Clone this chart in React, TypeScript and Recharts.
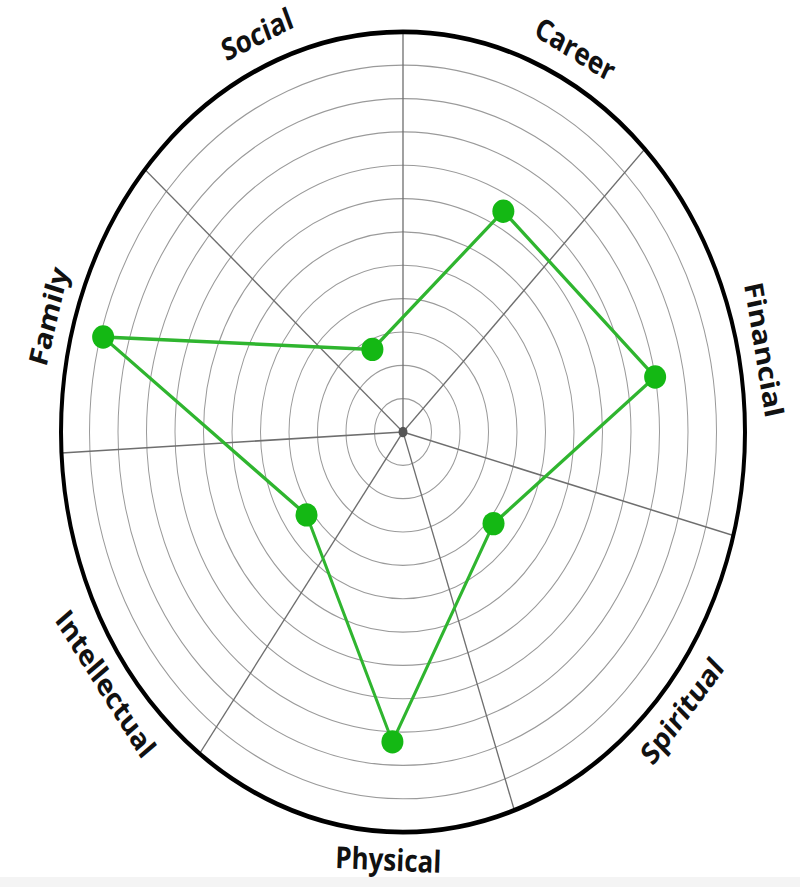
import React from "react";
import { RadarChart, Radar, PolarGrid, PolarAngleAxis, PolarRadiusAxis } from "recharts";

// ── data ────────────────────────────────────────────────────────────────
const AREAS = ["Career", "Financial", "Spiritual", "Physical", "Intellectual", "Family", "Social"];
const SCORES = [7.5, 9, 4.2, 9.3, 4.2, 10.9, 2.7];
const SCALE_TICKS = [0, 12];

const data = AREAS.map((subject, i) => ({ subject, value: SCORES[i] }));

// ── layout ─────────────────────────────────────────────────────────────
// the wheel is drawn as a circle and stretched vertically into an ellipse
const STRETCH = 1.17;
const W = 800;
const H = 887;
const CX = 403;
const CY = 432 / STRETCH;
const R = 342;
const LABEL_R = 368;
const LABEL_DY = -3; // labels sit a little higher than the wheel centre
const START = 62;

// hand-drawn wheel: spokes are not evenly spaced
const SPOKES = [90, 45, -15, -71, -126.5, -177, 139];

const renderLabel = (props: any) => {
  const { payload, index } = props;
  const ang = payload.coordinate;
  const rad = (ang * Math.PI) / 180;
  const x = CX + Math.cos(rad) * LABEL_R;
  const y = CY - Math.sin(rad) * LABEL_R + LABEL_DY;
  let rot = 90 - ang;
  while (rot > 180) rot -= 360;
  while (rot < -180) rot += 360;
  if (rot > 90) rot -= 180;
  if (rot < -90) rot += 180;
  return (
    <g key={`lbl-${index}`} transform={`translate(${x},${y}) rotate(${rot})`}>
      <text
        x={0}
        y={0}
        textAnchor="middle"
        dominantBaseline="central"
        fontFamily="'Open Sans', sans-serif"
        fontWeight={700}
        fontSize={26}
        fill="#111"
      >
        {payload.value}
      </text>
    </g>
  );
};

const renderCenter = (props: any) => {
  const { x, y, payload, index } = props;
  if (payload.value !== 0) return <g key={`rt-${index}`} />;
  return <circle key={`rt-${index}`} cx={x} cy={y} r={4.5} fill="#555" />;
};

const renderDot = (props: any) => (
  <ellipse key={`dot-${props.index}`} cx={props.cx} cy={props.cy} rx={11} ry={10} fill="#14b814" />
);

export default function App() {
  return (
    <div style={{ position: "absolute", left: 0, top: 0, width: W, height: H, overflow: "hidden", background: "#fff" }}>
      <div style={{ position: "absolute", left: 0, bottom: 0, width: W, height: 10, background: "#f4f4f4" }} />
      <div style={{ position: "absolute", left: 0, top: 0, width: W, height: H / STRETCH, transform: `scaleY(${STRETCH})`, transformOrigin: "0 0" }}>
        <RadarChart
          width={W}
          height={H / STRETCH}
          cx={CX}
          cy={CY}
          outerRadius={R}
          startAngle={START}
          endAngle={START - 360}
          data={data}
          margin={{ top: 0, right: 0, bottom: 0, left: 0 }}
        >
          <PolarGrid gridType="circle" radialLines={false} stroke="#9a9a9a" strokeWidth={1} />
          <PolarGrid gridType="circle" polarAngles={SPOKES} polarRadius={[]} stroke="#6e6e6e" strokeWidth={1.3} />
          <PolarRadiusAxis
            type="number"
            domain={SCALE_TICKS}
            tickCount={13}
            angle={0}
            axisLine={false}
            tick={renderCenter}
          />
          <Radar
            dataKey="value"
            stroke="#2fb52f"
            strokeWidth={3}
            fill="none"
            fillOpacity={0}
            dot={renderDot}
            isAnimationActive={false}
          />
          <PolarAngleAxis
            dataKey="subject"
            axisLineType="circle"
            axisLine={{ stroke: "#000", strokeWidth: 4 }}
            tickLine={false}
            tick={renderLabel}
          />
        </RadarChart>
      </div>
    </div>
  );
}
